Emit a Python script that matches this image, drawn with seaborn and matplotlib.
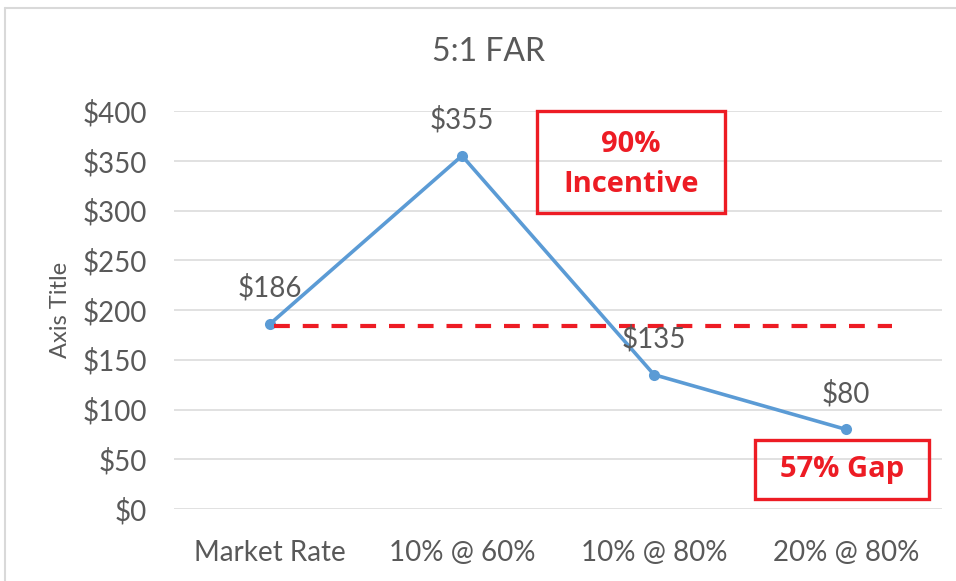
import pandas as pd
import matplotlib.pyplot as plt
import matplotlib.patches as patches
from matplotlib.lines import Line2D
import seaborn as sns

# chart data
scenarios = ['Market Rate', '10% @ 60%', '10% @ 80%', '20% @ 80%']
values = [186, 355, 135, 80]
y_ticks = [0, 50, 100, 150, 200, 250, 300, 350, 400]
reference_level = 184
reference_span = (0.02, 3.24)

df = pd.DataFrame({'scenario': scenarios, 'value': values})

gray = '#595959'
grid = '#d9d9d9'
blue = '#5b9bd5'
red = '#ed1c24'

sns.set_theme(style='white')
plt.rcParams['font.family'] = ['Lato', 'DejaVu Sans']

fig = plt.figure(figsize=(9.56, 5.81), dpi=100)
W, H = 956, 581
ax = fig.add_axes([174 / W, 1 - 509 / H, (942 - 174) / W, (509 - 111) / H])

for y in y_ticks:
    ax.axhline(y, color=grid, linewidth=1.1, zorder=0)

sns.lineplot(data=df, x='scenario', y='value', sort=False, marker='o',
             color=blue, linewidth=2.6, markersize=8, markeredgewidth=0, ax=ax)

ax.hlines(reference_level, reference_span[0], reference_span[1], colors=red,
          linewidth=3, linestyles=(0, (3.8, 3.1)), zorder=3)

for i, v in enumerate(values):
    ax.annotate(f'${v}', (i, v), xytext=(0, 26), textcoords='offset points',
                ha='center', va='center', fontsize=20, color=gray, zorder=4)

ax.set_xlim(-0.5, 3.5)
ax.set_ylim(0, 400)
ax.set_yticks(y_ticks)
ax.set_yticklabels([f'${t}' for t in y_ticks])
ax.tick_params(axis='both', length=0, labelsize=20, labelcolor=gray)
ax.tick_params(axis='y', pad=19.5)
ax.tick_params(axis='x', pad=22)
ax.set_xlabel('')
ax.set_ylabel('Axis Title', fontsize=17, color=gray)
ax.yaxis.set_label_coords(-0.134, 0.5)
for s in ax.spines.values():
    s.set_visible(False)

fig.text(488 / W, 1 - 52 / H, '5:1 FAR', ha='center', va='center',
         fontsize=23, color=gray)

# outer chart frame (top and left edges visible)
fig.add_artist(Line2D([5 / W, 1], [1 - 8 / H, 1 - 8 / H], color=grid, linewidth=1.5))
fig.add_artist(Line2D([5 / W, 5 / W], [0, 1 - 8 / H], color=grid, linewidth=1.5))

# callout boxes
def callout(x0, y0, x1, y1, lines):
    fig.add_artist(patches.Rectangle((x0 / W, 1 - y1 / H), (x1 - x0) / W, (y1 - y0) / H,
                                     fill=False, edgecolor=red, linewidth=2.4))
    for text, yc in lines:
        fig.text((x0 + x1) / 2 / W, 1 - yc / H, text, ha='center', va='center',
                 fontsize=21, fontweight='bold', color=red, family=['Open Sans', 'DejaVu Sans'])

callout(537, 111, 725, 213, [('90%', 145), ('Incentive', 184)])
callout(755, 440, 929, 499, [('57% Gap', 470)])

fig.savefig('out.png', dpi=100, facecolor='white')
